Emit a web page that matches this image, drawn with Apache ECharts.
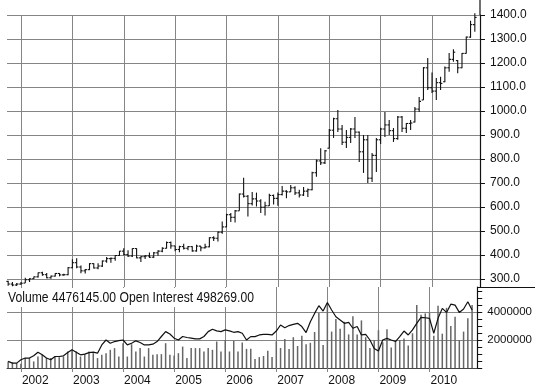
<!DOCTYPE html>
<html><head><meta charset="utf-8">
<script src="https://cdn.jsdelivr.net/npm/echarts@6/dist/echarts.min.js"></script>
<style>html,body{margin:0;padding:0;background:#fff}#c{width:535px;height:390px}</style>
</head><body><div id="c"></div>
<script>
// Monthly bars Oct 2001 .. Nov 2010
const months = [];
for (let y = 2001; y <= 2010; y++) for (let m = 1; m <= 12; m++) {
  if ((y === 2001 && m < 10) || (y === 2010 && m > 11)) continue;
  months.push(y + '-' + (m < 10 ? '0' : '') + m);
}

const open  = [290,279,275, 279,283,297,301,309,326,318,305,312,323,317,318, 347,368,350,334,339,364,346,354,375,385,386,398, 416,402,396,427,388,393,396,391,409,416,428,452, 438,423,435,428,435,417,437,430,434,472,470,495, 517,568,557,584,654,645,614,634,625,599,605,648, 636,652,666,663,680,659,650,666,672,743,792,784, 845,920,968,925,870,890,925,912,830,880,720,815, 880,925,942,918,885,975,928,948,954,1008,1046,1180, 1097,1083,1118,1122,1180,1215,1210,1180,1240,1308,1360];
const high  = [293,287,283, 288,305,303,310,327,330,325,315,325,325,322,350, 382,386,356,342,366,366,366,377,392,390,400,417, 428,420,428,428,395,400,410,413,420,432,456,456, 438,439,447,437,436,443,438,447,474,478,498,540, 572,575,588,656,722,650,663,660,632,622,655,652, 660,688,670,692,686,672,683,677,747,798,845,837, 925,972,1004,942,921,929,975,915,900,900,825,887, 930,996,962,929,979,979,950,962,1017,1058,1183,1221, 1160,1137,1143,1185,1242,1257,1212,1242,1310,1376,1407];
const low   = [272,270,271, 276,283,288,300,306,314,303,301,310,311,314,316, 345,345,324,323,337,344,341,350,368,368,376,396, 399,392,392,386,371,383,387,388,397,411,427,426, 416,411,423,420,414,414,416,427,432,458,456,489, 516,538,535,584,640,560,606,602,575,565,604,610, 605,648,636,662,650,640,646,642,670,726,775,779, 845,888,913,858,846,867,888,787,742,700,704,746, 862,892,900,871,880,912,908,921,952,996,1046,1087, 1075,1046,1087,1120,1164,1205,1157,1178,1240,1305,1330];
const close = [279,275,279, 282,297,301,309,326,318,305,312,323,317,318,347, 368,350,334,339,364,346,354,375,385,386,398,416, 402,396,427,388,393,396,391,409,416,428,452,438, 423,435,428,435,417,437,430,434,472,470,495,517, 568,557,584,654,645,614,634,625,599,605,648,636, 652,666,663,680,659,650,666,672,743,792,784,834, 920,968,925,870,890,925,912,830,880,720,815,880, 925,942,918,885,975,928,948,950,1008,1040,1180,1097, 1083,1118,1115,1180,1215,1245,1180,1240,1308,1360,1390];
// Volume (millions of contracts)
const volume = [0.47,0.4,0.35, 0.3,0.71,0.71,0.47,0.82,0.94,0.71,0.71,0.82,0.76,0.82,1.18, 1.3,1.18,0.82,0.99,1.18,1.06,0.71,0.94,1.06,1.3,1.42,0.82, 1.77,0.82,1.7,1.18,1.42,0.82,1.42,0.94,0.99,0.99,1.77,0.94, 0.9,1.06,1.53,0.71,1.42,1.42,1.42,1.18,1.42,1.3,1.89,1.18, 2.0,1.18,1.94,1.18,1.82,1.37,1.37,0.64,0.78,0.86,1.24,0.78, 1.9,1.43,2.07,1.36,2.2,1.57,2.3,1.7,1.8,2.57,3.93,1.64, 4.6,2.6,3.5,2.8,3.3,2.4,3.7,2.4,3.4,2.2,1.42,2.0, 2.7,1.84,2.77,1.46,2.0,2.0,2.1,1.6,2.48,4.5,3.8,3.9, 3.95,2.3,4.45,2.45,4.3,3.0,3.66,2.0,2.6,3.55,4.5];
// Open interest line, in the lower panel's axis units
const openInterest = [0.47,0.35,0.35, 0.59,0.71,0.71,0.87,1.13,0.94,0.71,0.59,0.82,0.82,0.87,1.1, 1.3,1.13,0.94,0.99,1.1,1.13,1.06,1.65,2.0,1.77,1.89,1.96, 2.0,1.65,1.77,1.94,1.82,1.65,1.65,1.7,1.89,2.25,2.6,2.43, 2.13,2.0,2.25,2.18,2.13,2.08,2.08,2.25,2.6,2.77,2.65,2.6, 2.72,2.65,2.55,2.6,2.48,2.0,2.24,2.24,2.36,2.4,2.4,2.36, 2.64,3.07,2.88,3.03,3.12,3.19,2.96,2.53,3.31,3.9,4.45,4.07, 4.68,4.14,3.66,3.43,3.19,3.26,2.84,2.96,2.36,2.4,2.0,1.4, 1.21,2.0,2.12,2.0,1.89,2.24,2.64,2.36,2.72,3.19,3.62,3.59, 3.55,2.48,3.55,4.26,3.97,4.56,4.49,3.97,4.21,4.73,4.14];
const titleText = 'Volume 4476145.00 Open Interest 498269.00';

const FONT = "'Liberation Sans', Arial, sans-serif";
const GRID = '#858585';
// month label -> decimal year (position on the time axis)
const t = months.map(s => +s.slice(0, 4) + (+s.slice(5, 7) - 1) / 12);
const X_MIN = 2001.7275, X_MAX = 2010.934;

const ohlc = t.map((x, i) => [x, open[i], high[i], low[i], close[i]]);
const volData = t.map((x, i) => [x, volume[i]]);
const oiData = t.map((x, i) => [x, openInterest[i]]);

const chart = echarts.init(document.getElementById('c'), null, {renderer: 'canvas'});
chart.setOption({
  animation: false,
  backgroundColor: '#fff',
  textStyle: {fontFamily: FONT},
  grid: [
    {left: 7, right: 55, top: 15, height: 272},
    {left: 7, right: 55, top: 287, height: 81}
  ],
  xAxis: [
    {type: 'value', gridIndex: 0, min: X_MIN, max: X_MAX, splitNumber: 9,
     axisLine: {show: false}, axisTick: {show: false}, axisLabel: {show: false},
     splitLine: {show: true, showMinLine: false, showMaxLine: false, lineStyle: {color: GRID, width: 1}}},
    {type: 'value', gridIndex: 1, min: X_MIN, max: X_MAX, splitNumber: 9,
     axisLine: {show: true, onZero: false, lineStyle: {color: '#444', width: 1}},
     axisTick: {show: true, length: 4, lineStyle: {color: GRID}},
     axisLabel: {show: true, formatter: v => String(Math.round(v)), align: 'left', showMinLabel: false, showMaxLabel: false,
                 margin: 7, fontSize: 12, color: '#111', fontFamily: FONT, padding: [0, 0, 0, 1]},
     splitLine: {show: true, showMinLine: false, showMaxLine: false, lineStyle: {color: GRID, width: 1}}}
  ],
  yAxis: [
    {type: 'value', gridIndex: 0, position: 'right', min: 266.67, max: 1400, splitNumber: 11,
     axisLine: {show: true, lineStyle: {color: '#111', width: 1.2}},
     axisTick: {show: true, length: 5, lineStyle: {color: '#111'}},
     axisLabel: {formatter: v => v.toFixed(1), margin: 10, fontSize: 12, color: '#111', fontFamily: FONT, showMinLabel: false},
     splitLine: {show: true, showMinLine: false, lineStyle: {color: GRID, width: 1}}},
    {type: 'value', gridIndex: 1, position: 'right', min: 0, max: 5.786, interval: 2,
     axisLine: {show: false}, axisTick: {show: false},
     axisLabel: {formatter: v => (v * 1000000).toFixed(0), margin: 10, fontSize: 11.5, color: '#111', fontFamily: FONT,
                 showMinLabel: false, showMaxLabel: false},
     splitLine: {show: true, showMinLine: false, showMaxLine: false, lineStyle: {color: GRID, width: 1}}},
    {type: 'value', gridIndex: 1, position: 'right', min: 0, max: 5.786, interval: 0.5,
     axisLine: {show: true, lineStyle: {color: '#111', width: 1.2}},
     axisTick: {show: true, length: 5, lineStyle: {color: '#111'}},
     axisLabel: {show: false}, splitLine: {show: false}}
  ],
  graphic: [
    {type: 'line', shape: {x1: 480, y1: 0, x2: 480, y2: 15}, style: {stroke: '#111', lineWidth: 1.2}},
    {type: 'line', shape: {x1: 480, y1: 287.5, x2: 535, y2: 287.5}, style: {stroke: '#111', lineWidth: 1.2}},
    {type: 'rect', z: 100, shape: {x: 5, y: 288, width: 253, height: 19}, style: {fill: '#fff'}},
    {type: 'text', z: 101, x: 8, y: 298, scaleX: 0.81,
     style: {text: titleText, font: "15px 'Liberation Sans', Arial, sans-serif", fill: '#111', verticalAlign: 'middle', textVerticalAlign: 'middle'}}
  ],
  series: [
    {type: 'custom', name: 'Price', xAxisIndex: 0, yAxisIndex: 0, clip: false, z: 3,
     data: ohlc, encode: {x: 0, y: [1, 2, 3, 4]},
     renderItem: (params, api) => {
       const x = api.value(0);
       const o = api.coord([x, api.value(1)]), h = api.coord([x, api.value(2)]);
       const l = api.coord([x, api.value(3)]), c = api.coord([x, api.value(4)]);
       const st = {stroke: '#111', lineWidth: 1.1};
       return {type: 'group', children: [
         {type: 'line', shape: {x1: h[0], y1: h[1], x2: l[0], y2: l[1]}, style: st},
         {type: 'line', shape: {x1: o[0] - 1.8, y1: o[1], x2: o[0], y2: o[1]}, style: st},
         {type: 'line', shape: {x1: c[0], y1: c[1], x2: c[0] + 1.8, y2: c[1]}, style: st}
       ]};
     }},
    {type: 'bar', name: 'Volume', xAxisIndex: 1, yAxisIndex: 1, data: volData, barWidth: 1.5,
     itemStyle: {color: '#666'}, z: 2},
    {type: 'line', name: 'Open Interest', xAxisIndex: 1, yAxisIndex: 1, data: oiData,
     showSymbol: false, symbol: 'none', lineStyle: {color: '#111', width: 1.2}, z: 3}
  ]
});
</script></body></html>
